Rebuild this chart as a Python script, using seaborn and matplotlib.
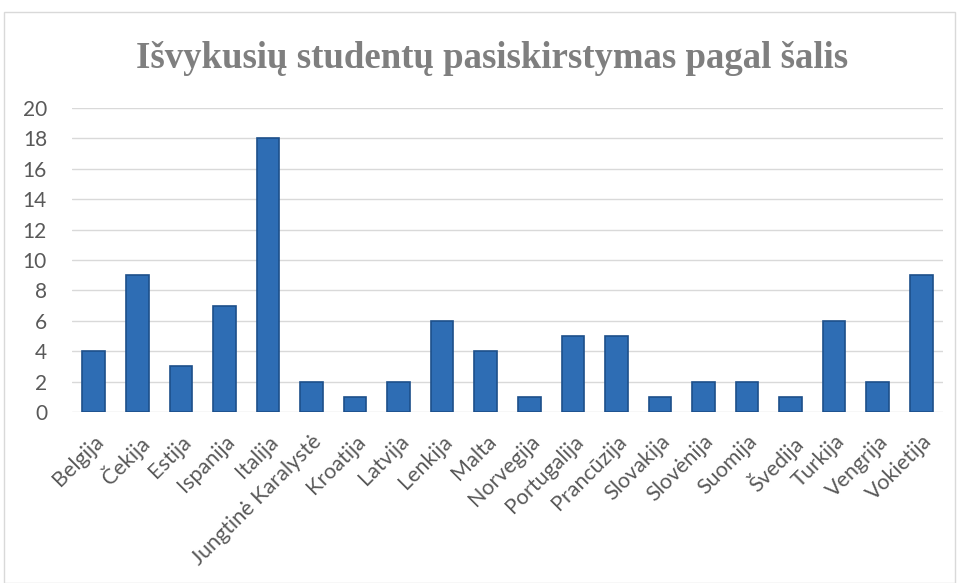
import matplotlib
matplotlib.use("Agg")
import matplotlib.pyplot as plt
import seaborn as sns
import pandas as pd
from matplotlib.patches import Rectangle

countries = ["Belgija", "Čekija", "Estija", "Ispanija", "Italija", "Jungtinė Karalystė",
             "Kroatija", "Latvija", "Lenkija", "Malta", "Norvegija", "Portugalija",
             "Prancūzija", "Slovakija", "Slovėnija", "Suomija", "Švedija", "Turkija",
             "Vengrija", "Vokietija"]
students = [4, 9, 3, 7, 18, 2, 1, 2, 6, 4, 1, 5, 5, 1, 2, 2, 1, 6, 2, 9]
yticks = list(range(0, 21, 2))
title = "Išvykusių studentų pasiskirstymas pagal šalis"

df = pd.DataFrame({"country": countries, "students": students})

sns.set_theme(style="white")
plt.rcParams["font.family"] = ["Lato", "DejaVu Sans"]

fig = plt.figure(figsize=(9.59, 5.83), dpi=100)
fig.patches.append(Rectangle((4/959, 0), 951/959, 1 - 12/583, transform=fig.transFigure,
                             fill=False, edgecolor="#d9d9d9", linewidth=1.0))
ax = fig.add_axes([72/959, 1 - 412/583, 871/959, (412 - 108)/583])

sns.barplot(data=df, x="country", y="students", ax=ax, color="#2E6DB4",
            width=0.52, edgecolor="#1D4F8A", linewidth=1.2, saturation=1, zorder=3)

ax.set_ylim(0, 20)
ax.set_yticks(yticks)
ax.set_xlim(-0.5, len(countries) - 0.5)
ax.yaxis.grid(True, color="#d9d9d9", linewidth=1.0, zorder=0)
ax.set_axisbelow(True)
for s in ax.spines.values():
    s.set_visible(False)
ax.set_xlabel("")
ax.set_ylabel("")
ax.tick_params(axis="y", length=0, pad=18, labelsize=15, labelcolor="#595959")
ax.tick_params(axis="x", length=0, pad=14, labelsize=15.5, labelcolor="#595959")
plt.setp(ax.get_xticklabels(), rotation=45, ha="right", rotation_mode="anchor")

fig.text(0.513, 1 - 58/583, title, ha="center", va="center",
         fontsize=26.5, fontweight="bold", color="#7f7f7f", family=["Liberation Serif", "DejaVu Serif"])

fig.savefig("out.png", dpi=100)
